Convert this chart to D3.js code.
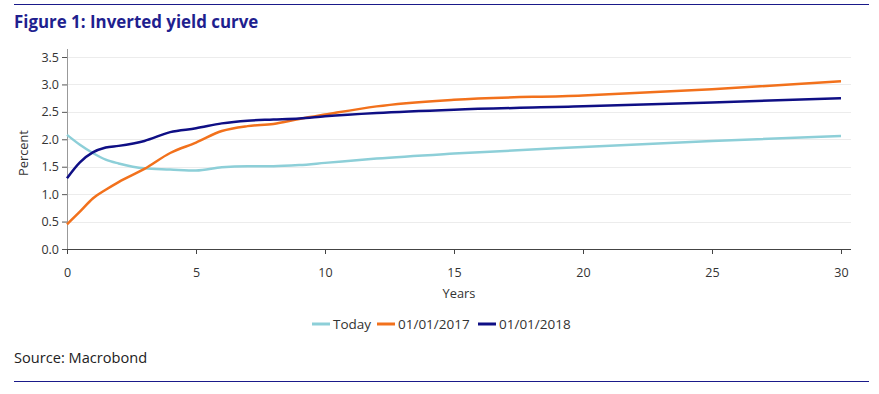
<!DOCTYPE html>
<html><head><meta charset="utf-8">
<script src="https://cdn.jsdelivr.net/npm/d3@7"></script>
<style>body{margin:0;background:#fff;}svg{display:block;font-family:"Open Sans","Noto Sans",sans-serif;}</style>
</head><body>
<svg id="c" width="879" height="394"></svg>
<script>
const years = [0,0.5,1,1.5,2,3,4,5,6,7,8,9,10,12,15,20,25,30];
const today = [2.08,1.90,1.75,1.63,1.56,1.47,1.45,1.43,1.49,1.51,1.51,1.53,1.57,1.65,1.74,1.86,1.97,2.06];
const y2017 = [0.45,0.68,0.92,1.08,1.22,1.46,1.75,1.94,2.15,2.24,2.28,2.37,2.45,2.60,2.72,2.80,2.91,3.06];
const y2018 = [1.29,1.58,1.76,1.85,1.88,1.97,2.13,2.20,2.29,2.34,2.36,2.38,2.42,2.48,2.54,2.60,2.67,2.75];
const seriesNames = ["Today","01/01/2017","01/01/2018"];
const seriesColors = ["#8dcfd8","#f2711c","#0f0f85"];
const xTicks = [0,5,10,15,20,25,30];
const yTicks = [0,0.5,1,1.5,2,2.5,3,3.5];

const svg = d3.select("#c");
const navy = "#1a1a8a";
svg.append("line").attr("x1",14).attr("x2",869).attr("y1",4.5).attr("y2",4.5).attr("stroke",navy).attr("stroke-width",1.2);
svg.append("line").attr("x1",14).attr("x2",869).attr("y1",381.5).attr("y2",381.5).attr("stroke",navy).attr("stroke-width",1.2);
svg.append("text").attr("x",14).attr("y",28).attr("fill","#1f1f8f").attr("font-weight","bold").attr("font-size",16.9).text("Figure 1: Inverted yield curve");
svg.append("text").attr("x",14).attr("y",363).attr("fill","#222").attr("font-size",14.6).text("Source: Macrobond");

const x = d3.scaleLinear().domain([0,30]).range([67,841]);
const y = d3.scaleLinear().domain([0,3.5]).range([249,57]);

// gridlines
svg.append("g").selectAll("line").data(yTicks.filter(d=>d>0)).join("line")
  .attr("x1",67).attr("x2",851).attr("y1",d=>Math.round(y(d))+0.5).attr("y2",d=>Math.round(y(d))+0.5)
  .attr("stroke","#ececec").attr("stroke-width",1);

const yAxis = svg.append("g").attr("transform","translate(67,0)")
  .call(d3.axisLeft(y).tickValues(yTicks).tickFormat(d3.format(".1f")).tickSize(5));
yAxis.select(".domain").attr("stroke","#999").attr("d","M0.5,"+(y(3.5)-8)+"V"+y(0));
yAxis.selectAll(".tick line").attr("stroke","#555");
yAxis.selectAll("text").attr("font-size",12.5).attr("fill","#333").attr("font-family","'Open Sans',sans-serif");

const xAxis = svg.append("g").attr("transform","translate(0,249)")
  .call(d3.axisBottom(x).tickValues(xTicks).tickSize(5));
xAxis.select(".domain").attr("stroke","#444").attr("d","M67,0.5H851");
xAxis.selectAll(".tick line").attr("stroke","#444");
xAxis.selectAll("text").attr("font-size",12.5).attr("fill","#333").attr("y",19).attr("dy","0.71em").attr("font-family","'Open Sans',sans-serif");

svg.append("text").attr("x",459).attr("y",298).attr("text-anchor","middle").attr("font-size",12.8).attr("fill","#333").text("Years");
svg.append("text").attr("transform","translate(28,153) rotate(-90)").attr("text-anchor","middle").attr("font-size",12.8).attr("fill","#333").text("Percent");

const data = [today,y2017,y2018];
const line = d3.line().x((d,i)=>x(years[i])).y(d=>y(d)).curve(d3.curveMonotoneX);
svg.append("g").selectAll("path").data(data).join("path")
  .attr("d",line).attr("fill","none").attr("stroke",(d,i)=>seriesColors[i]).attr("stroke-width",2.5).attr("stroke-linejoin","round");

// legend
const lg = svg.append("g").attr("font-size",13.5).attr("fill","#333");
const starts = [312,377,478];
seriesNames.forEach((n,i)=>{
  const sx = starts[i];
  lg.append("line").attr("x1",sx).attr("x2",sx+18).attr("y1",324).attr("y2",324).attr("stroke",seriesColors[i]).attr("stroke-width",3);
  lg.append("text").attr("x",sx+21).attr("y",329).text(n);
});
</script>
</body></html>
